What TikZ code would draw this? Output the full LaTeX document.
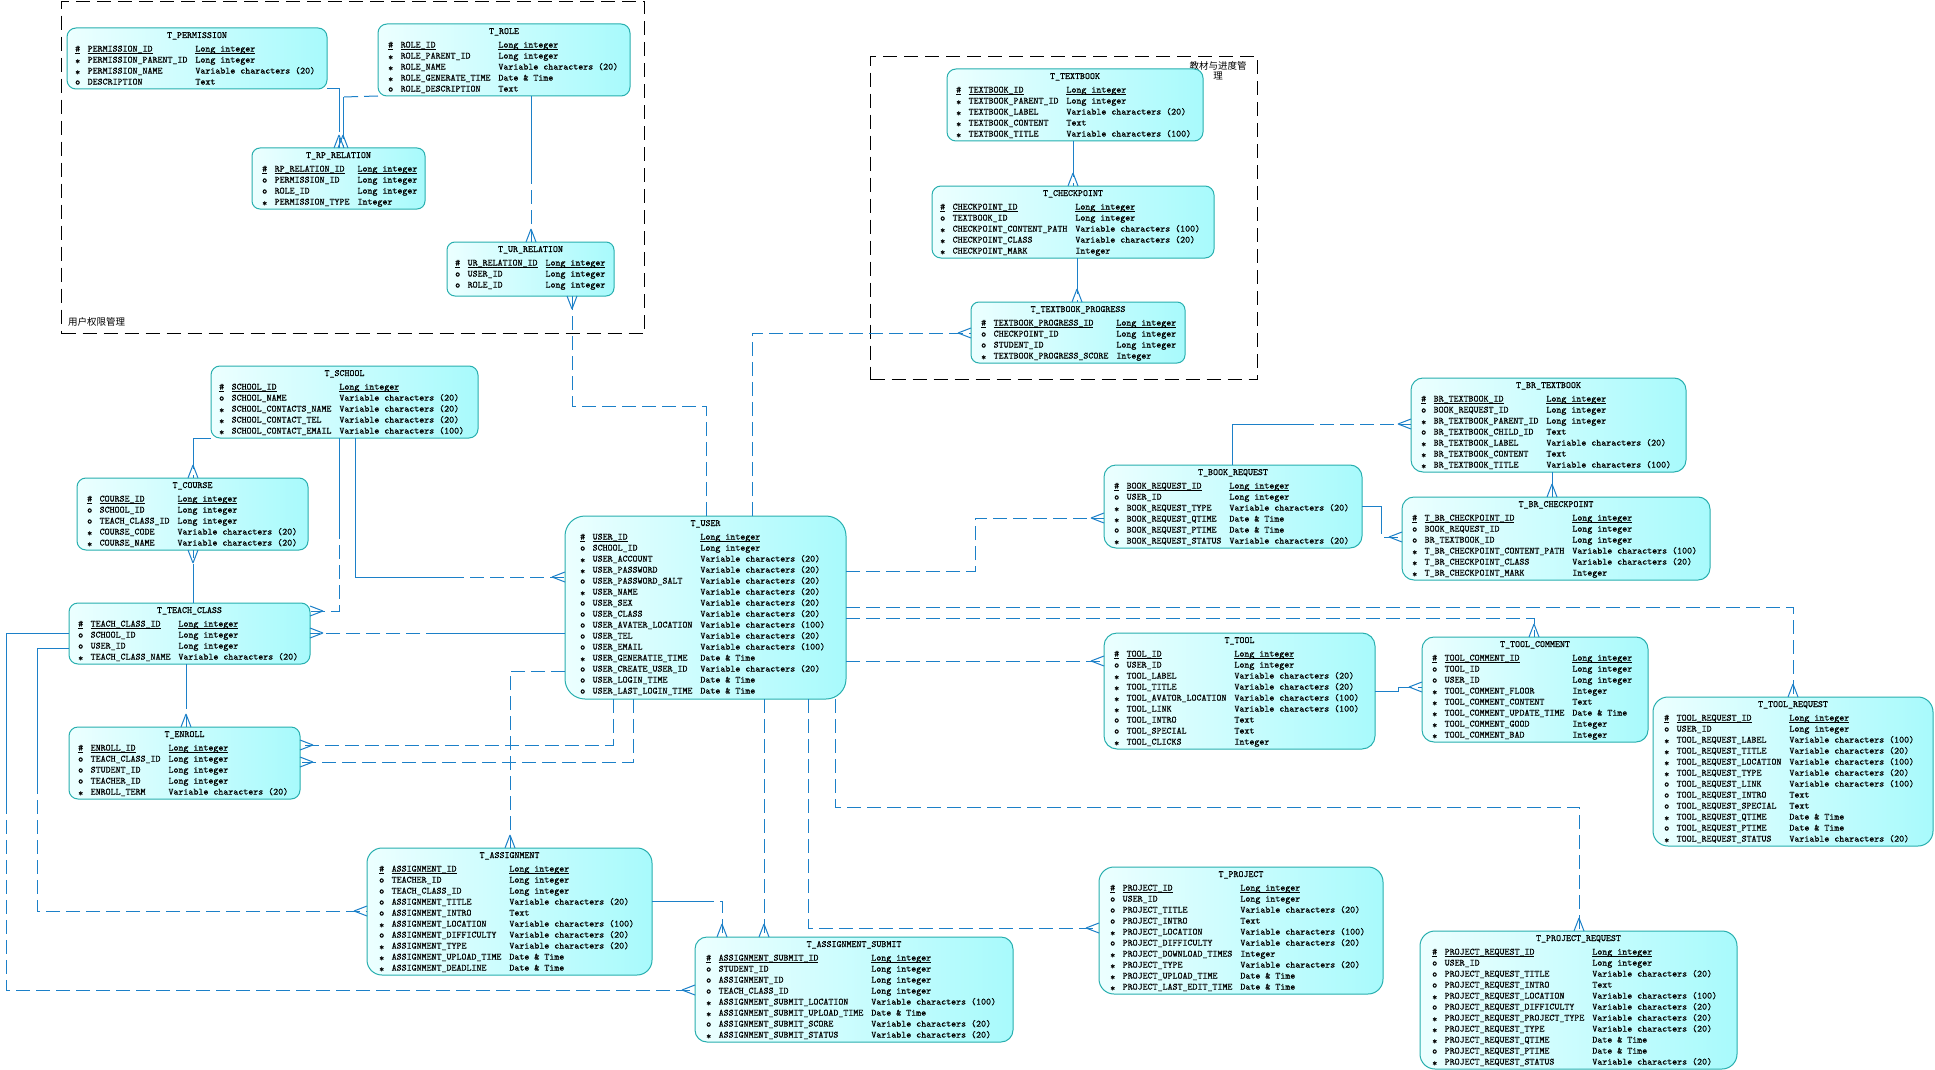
\documentclass[tikz,border=0pt]{standalone}
\usepackage{fontspec}
\newfontfamily\cjkf{Noto Sans CJK SC}
\newfontfamily\ermono{lmmono10-regular}[Extension=.otf, FakeBold=0.6]
\usetikzlibrary{calc}
\definecolor{relc}{RGB}{28,128,200}
\definecolor{tbord}{RGB}{40,175,175}
\definecolor{tlight}{RGB}{236,255,255}
\definecolor{tdark}{RGB}{168,250,252}
\newcommand{\eul}[1]{\setbox0=\hbox{#1}\rlap{\rule[-2pt]{\wd0}{0.7pt}}\box0}
\newcommand{\erpk}[2]{\eul{\#}&\eul{#1}&\eul{#2}\\}
\newcommand{\ero}[2]{o&#1&#2\\}
\newcommand{\ers}[2]{\raisebox{-1.6pt}{*}&#1&#2\\}
\newcommand{\eLI}{Long integer}
\newcommand{\eVC}[1]{Variable characters (#1)}
\newcommand{\eDT}{Date \& Time}
\newcommand{\ertbl}[9]{%
 \node[tbl, rounded corners=#1pt, minimum width=#5pt, minimum height=#6pt, anchor=north west] (#2) at (#3,#4) {};
 \node[ttl, anchor=base] (#2-t) at ($(#2.north)+(0,10)$) {#8};
 \node[rowsn, anchor=north west] (#2-r) at ($(#2.north west)+(#7,15.7)$) {\begin{tabular}{@{}l@{\hspace{7.5pt}}l@{\hspace{8pt}}l@{}}#9\end{tabular}};
}
\tikzset{
 tbl/.style={rectangle, draw=tbord, line width=1pt, rounded corners=9pt, left color=tlight, right color=tdark, inner sep=0pt, outer sep=0pt},
 ttl/.style={font=\ermono\fontsize{9.5}{11}\selectfont, inner sep=0pt},
 rowsn/.style={font=\ermono\fontsize{9.5}{11}\selectfont, inner sep=0pt},
 rel/.style={draw=relc, line width=1pt},
 reld/.style={rel, dash pattern=on 14pt off 6pt},
 grpbox/.style={rectangle, draw=black, line width=1.1pt, dash pattern=on 14pt off 7pt, inner sep=0pt},
 lbl/.style={font=\cjkf\fontsize{9.5}{10.5}\selectfont, inner sep=0pt},
 crow/.pic={\draw[rel] (13,0) -- (0,5) (13,0) -- (0,-5);}
}
\begin{document}
\begin{tikzpicture}[x=1pt,y=-1pt]
\fill[white] (0,0) rectangle (1935,1070);
\useasboundingbox (0,0) rectangle (1935,1070);
% group frames
\node[grpbox, minimum width=583pt, minimum height=332pt, anchor=north west] (g1) at (61,1) {};
\node[lbl, anchor=base west] (g1-l) at (68,325) {用户权限管理};
\node[grpbox, minimum width=387pt, minimum height=323pt, anchor=north west] (g2) at (870,56) {};
\node[lbl, anchor=north, align=center] (g2-l) at (1218,61) {教材与进度管\\理};
% tables
\ertbl{9}{perm}{67}{28}{260}{61}{8}{T\_PERMISSION}{%
\erpk{PERMISSION\_ID}{\eLI}
\ers{PERMISSION\_PARENT\_ID}{\eLI}
\ers{PERMISSION\_NAME}{\eVC{20}}
\ero{DESCRIPTION}{Text}}
\ertbl{9}{role}{378}{24}{252}{72}{10}{T\_ROLE}{%
\erpk{ROLE\_ID}{\eLI}
\ers{ROLE\_PARENT\_ID}{\eLI}
\ers{ROLE\_NAME}{\eVC{20}}
\ers{ROLE\_GENERATE\_TIME}{\eDT}
\ero{ROLE\_DESCRIPTION}{Text}}
\ertbl{8}{rp}{252}{148}{173}{61}{10}{T\_RP\_RELATION}{%
\erpk{RP\_RELATION\_ID}{\eLI}
\ero{PERMISSION\_ID}{\eLI}
\ero{ROLE\_ID}{\eLI}
\ers{PERMISSION\_TYPE}{Integer}}
\ertbl{8}{ur}{447}{242}{167}{54}{8}{T\_UR\_RELATION}{%
\erpk{UR\_RELATION\_ID}{\eLI}
\ero{USER\_ID}{\eLI}
\ero{ROLE\_ID}{\eLI}}
\ertbl{9}{textbook}{947}{69}{256}{72}{9}{T\_TEXTBOOK}{%
\erpk{TEXTBOOK\_ID}{\eLI}
\ers{TEXTBOOK\_PARENT\_ID}{\eLI}
\ers{TEXTBOOK\_LABEL}{\eVC{20}}
\ers{TEXTBOOK\_CONTENT}{Text}
\ers{TEXTBOOK\_TITLE}{\eVC{100}}}
\ertbl{9}{checkpoint}{932}{186}{282}{72}{8}{T\_CHECKPOINT}{%
\erpk{CHECKPOINT\_ID}{\eLI}
\ero{TEXTBOOK\_ID}{\eLI}
\ers{CHECKPOINT\_CONTENT\_PATH}{\eVC{100}}
\ers{CHECKPOINT\_CLASS}{\eVC{20}}
\ers{CHECKPOINT\_MARK}{Integer}}
\ertbl{8}{progress}{971}{302}{214}{61}{10}{T\_TEXTBOOK\_PROGRESS}{%
\erpk{TEXTBOOK\_PROGRESS\_ID}{\eLI}
\ero{CHECKPOINT\_ID}{\eLI}
\ero{STUDENT\_ID}{\eLI}
\ers{TEXTBOOK\_PROGRESS\_SCORE}{Integer}}
\ertbl{9}{school}{211}{366}{267}{72}{8}{T\_SCHOOL}{%
\erpk{SCHOOL\_ID}{\eLI}
\ero{SCHOOL\_NAME}{\eVC{20}}
\ers{SCHOOL\_CONTACTS\_NAME}{\eVC{20}}
\ers{SCHOOL\_CONTACT\_TEL}{\eVC{20}}
\ers{SCHOOL\_CONTACT\_EMAIL}{\eVC{100}}}
\ertbl{9}{course}{77}{478}{231}{72}{10}{T\_COURSE}{%
\erpk{COURSE\_ID}{\eLI}
\ero{SCHOOL\_ID}{\eLI}
\ero{TEACH\_CLASS\_ID}{\eLI}
\ers{COURSE\_CODE}{\eVC{20}}
\ers{COURSE\_NAME}{\eVC{20}}}
\ertbl{9}{teachclass}{69}{603}{241}{61}{9}{T\_TEACH\_CLASS}{%
\erpk{TEACH\_CLASS\_ID}{\eLI}
\ero{SCHOOL\_ID}{\eLI}
\ero{USER\_ID}{\eLI}
\ers{TEACH\_CLASS\_NAME}{\eVC{20}}}
\ertbl{9}{enroll}{69}{727}{231}{72}{9}{T\_ENROLL}{%
\erpk{ENROLL\_ID}{\eLI}
\ero{TEACH\_CLASS\_ID}{\eLI}
\ero{STUDENT\_ID}{\eLI}
\ero{TEACHER\_ID}{\eLI}
\ers{ENROLL\_TERM}{\eVC{20}}}
\ertbl{20}{user}{565}{516}{281}{183}{15}{T\_USER}{%
\erpk{USER\_ID}{\eLI}
\ero{SCHOOL\_ID}{\eLI}
\ers{USER\_ACCOUNT}{\eVC{20}}
\ers{USER\_PASSWORD}{\eVC{20}}
\ero{USER\_PASSWORD\_SALT}{\eVC{20}}
\ers{USER\_NAME}{\eVC{20}}
\ero{USER\_SEX}{\eVC{20}}
\ero{USER\_CLASS}{\eVC{20}}
\ero{USER\_AVATER\_LOCATION}{\eVC{100}}
\ero{USER\_TEL}{\eVC{20}}
\ero{USER\_EMAIL}{\eVC{100}}
\ers{USER\_GENERATIE\_TIME}{\eDT}
\ero{USER\_CREATE\_USER\_ID}{\eVC{20}}
\ero{USER\_LOGIN\_TIME}{\eDT}
\ero{USER\_LAST\_LOGIN\_TIME}{\eDT}}
\ertbl{15}{assignment}{367}{848}{285}{127}{12}{T\_ASSIGNMENT}{%
\erpk{ASSIGNMENT\_ID}{\eLI}
\ero{TEACHER\_ID}{\eLI}
\ero{TEACH\_CLASS\_ID}{\eLI}
\ero{ASSIGNMENT\_TITLE}{\eVC{20}}
\ero{ASSIGNMENT\_INTRO}{Text}
\ers{ASSIGNMENT\_LOCATION}{\eVC{100}}
\ero{ASSIGNMENT\_DIFFICULTY}{\eVC{20}}
\ers{ASSIGNMENT\_TYPE}{\eVC{20}}
\ers{ASSIGNMENT\_UPLOAD\_TIME}{\eDT}
\ers{ASSIGNMENT\_DEADLINE}{\eDT}}
\ertbl{12}{submit}{695}{937}{318}{105}{11}{T\_ASSIGNMENT\_SUBMIT}{%
\erpk{ASSIGNMENT\_SUBMIT\_ID}{\eLI}
\ero{STUDENT\_ID}{\eLI}
\ero{ASSIGNMENT\_ID}{\eLI}
\ero{TEACH\_CLASS\_ID}{\eLI}
\ers{ASSIGNMENT\_SUBMIT\_LOCATION}{\eVC{100}}
\ers{ASSIGNMENT\_SUBMIT\_UPLOAD\_TIME}{\eDT}
\ero{ASSIGNMENT\_SUBMIT\_SCORE}{\eVC{20}}
\ers{ASSIGNMENT\_SUBMIT\_STATUS}{\eVC{20}}}
\ertbl{12}{bookreq}{1104}{465}{258}{83}{10}{T\_BOOK\_REQUEST}{%
\erpk{BOOK\_REQUEST\_ID}{\eLI}
\ero{USER\_ID}{\eLI}
\ers{BOOK\_REQUEST\_TYPE}{\eVC{20}}
\ers{BOOK\_REQUEST\_QTIME}{\eDT}
\ero{BOOK\_REQUEST\_PTIME}{\eDT}
\ers{BOOK\_REQUEST\_STATUS}{\eVC{20}}}
\ertbl{12}{brtextbook}{1411}{378}{275}{94}{10}{T\_BR\_TEXTBOOK}{%
\erpk{BR\_TEXTBOOK\_ID}{\eLI}
\ero{BOOK\_REQUEST\_ID}{\eLI}
\ers{BR\_TEXTBOOK\_PARENT\_ID}{\eLI}
\ero{BR\_TEXTBOOK\_CHILD\_ID}{Text}
\ers{BR\_TEXTBOOK\_LABEL}{\eVC{20}}
\ers{BR\_TEXTBOOK\_CONTENT}{Text}
\ers{BR\_TEXTBOOK\_TITLE}{\eVC{100}}}
\ertbl{12}{brcheckpoint}{1402}{497}{308}{83}{10}{T\_BR\_CHECKPOINT}{%
\erpk{T\_BR\_CHECKPOINT\_ID}{\eLI}
\ero{BOOK\_REQUEST\_ID}{\eLI}
\ero{BR\_TEXTBOOK\_ID}{\eLI}
\ers{T\_BR\_CHECKPOINT\_CONTENT\_PATH}{\eVC{100}}
\ers{T\_BR\_CHECKPOINT\_CLASS}{\eVC{20}}
\ers{T\_BR\_CHECKPOINT\_MARK}{Integer}}
\ertbl{13}{tool}{1104}{633}{271}{116}{10}{T\_TOOL}{%
\erpk{TOOL\_ID}{\eLI}
\ero{USER\_ID}{\eLI}
\ers{TOOL\_LABEL}{\eVC{20}}
\ers{TOOL\_TITLE}{\eVC{20}}
\ers{TOOL\_AVATOR\_LOCATION}{\eVC{100}}
\ers{TOOL\_LINK}{\eVC{100}}
\ero{TOOL\_INTRO}{Text}
\ero{TOOL\_SPECIAL}{Text}
\ers{TOOL\_CLICKS}{Integer}}
\ertbl{12}{toolcomment}{1422}{637}{226}{105}{10}{T\_TOOL\_COMMENT}{%
\erpk{TOOL\_COMMENT\_ID}{\eLI}
\ero{TOOL\_ID}{\eLI}
\ero{USER\_ID}{\eLI}
\ers{TOOL\_COMMENT\_FLOOR}{Integer}
\ers{TOOL\_COMMENT\_CONTENT}{Text}
\ers{TOOL\_COMMENT\_UPDATE\_TIME}{\eDT}
\ers{TOOL\_COMMENT\_GOOD}{Integer}
\ers{TOOL\_COMMENT\_BAD}{Integer}}
\ertbl{15}{toolreq}{1653}{697}{280}{149}{11}{T\_TOOL\_REQUEST}{%
\erpk{TOOL\_REQUEST\_ID}{\eLI}
\ero{USER\_ID}{\eLI}
\ers{TOOL\_REQUEST\_LABEL}{\eVC{100}}
\ers{TOOL\_REQUEST\_TITLE}{\eVC{20}}
\ers{TOOL\_REQUEST\_LOCATION}{\eVC{100}}
\ers{TOOL\_REQUEST\_TYPE}{\eVC{20}}
\ero{TOOL\_REQUEST\_LINK}{\eVC{100}}
\ero{TOOL\_REQUEST\_INTRO}{Text}
\ero{TOOL\_REQUEST\_SPECIAL}{Text}
\ers{TOOL\_REQUEST\_QTIME}{\eDT}
\ero{TOOL\_REQUEST\_PTIME}{\eDT}
\ers{TOOL\_REQUEST\_STATUS}{\eVC{20}}}
\ertbl{15}{project}{1099}{867}{284}{127}{11}{T\_PROJECT}{%
\erpk{PROJECT\_ID}{\eLI}
\ero{USER\_ID}{\eLI}
\ero{PROJECT\_TITLE}{\eVC{20}}
\ero{PROJECT\_INTRO}{Text}
\ers{PROJECT\_LOCATION}{\eVC{100}}
\ero{PROJECT\_DIFFICULTY}{\eVC{20}}
\ers{PROJECT\_DOWNLOAD\_TIMES}{Integer}
\ers{PROJECT\_TYPE}{\eVC{20}}
\ers{PROJECT\_UPLOAD\_TIME}{\eDT}
\ers{PROJECT\_LAST\_EDIT\_TIME}{\eDT}}
\ertbl{15}{projreq}{1420}{931}{317}{138}{12}{T\_PROJECT\_REQUEST}{%
\erpk{PROJECT\_REQUEST\_ID}{\eLI}
\ero{USER\_ID}{\eLI}
\ero{PROJECT\_REQUEST\_TITLE}{\eVC{20}}
\ero{PROJECT\_REQUEST\_INTRO}{Text}
\ers{PROJECT\_REQUEST\_LOCATION}{\eVC{100}}
\ero{PROJECT\_REQUEST\_DIFFICULTY}{\eVC{20}}
\ers{PROJECT\_REQUEST\_PROJECT\_TYPE}{\eVC{20}}
\ers{PROJECT\_REQUEST\_TYPE}{\eVC{20}}
\ers{PROJECT\_REQUEST\_QTIME}{\eDT}
\ero{PROJECT\_REQUEST\_PTIME}{\eDT}
\ers{PROJECT\_REQUEST\_STATUS}{\eVC{20}}}
% connectors
\draw[rel] (perm.south east) -- (339,89) -- (339,118);
\draw[reld] (339,118) -- (rp.north -| 339,0);
\pic[rotate=90] at (rp.north -| 339,0) {crow};
\draw[reld] (role.south west) -- (343,97);
\draw[rel] (343,97) -- (343,125);
\draw[reld] (343,125) -- (rp.north -| 343,0);
\pic[rotate=90] at (rp.north -| 343,0) {crow};
\draw[rel] (role.south -| 531,0) -- (531,170);
\draw[reld] (531,170) -- (ur.north -| 531,0);
\pic[rotate=90] at (ur.north -| 531,0) {crow};
\draw[reld] (user.north -| 706,0) -- (706,406) -- (572,406) -- (ur.south -| 572,0);
\pic[rotate=-90] at (ur.south -| 572,0) {crow};
\draw[reld] (user.north -| 752,0) -- (752,333) -- (progress.west |- 0,333);
\pic[rotate=180] at (progress.west |- 0,333) {crow};
\draw[rel] (school.south west) -- (193,438) -- (193,455);
\draw[reld] (193,455) -- (course.north -| 193,0);
\pic[rotate=90] at (course.north -| 193,0) {crow};
\draw[rel] (school.south -| 339,0) -- (339,525);
\draw[reld] (339,525) -- (339,611) -- (teachclass.east |- 0,611);
\pic[rotate=0] at (teachclass.east |- 0,611) {crow};
\draw[rel] (school.south -| 355,0) -- (355,577) -- (450,577);
\draw[reld] (450,577) -- (user.west |- 0,577);
\pic[rotate=180] at (user.west |- 0,577) {crow};
\draw[rel] (teachclass.north -| 193,0) -- (193,578);
\draw[reld] (193,578) -- (course.south -| 193,0);
\pic[rotate=-90] at (course.south -| 193,0) {crow};
\draw[rel] (teachclass.south -| 186,0) -- (186,695);
\draw[reld] (186,695) -- (enroll.north -| 186,0);
\pic[rotate=90] at (enroll.north -| 186,0) {crow};
\draw[rel] (user.west |- 0,633) -- (440,633);
\draw[reld] (440,633) -- (teachclass.east |- 0,633);
\pic[rotate=0] at (teachclass.east |- 0,633) {crow};
\draw[rel] (teachclass.west |- 0,633) -- (6,633) -- (6,800);
\draw[reld] (6,800) -- (6,990) -- (submit.west |- 0,990);
\pic[rotate=180] at (submit.west |- 0,990) {crow};
\draw[rel] (teachclass.west |- 0,648) -- (37,648) -- (37,780);
\draw[reld] (37,780) -- (37,911) -- (assignment.west |- 0,911);
\pic[rotate=180] at (assignment.west |- 0,911) {crow};
\draw[reld] (user.south -| 613,0) -- (613,745) -- (enroll.east |- 0,745);
\pic[rotate=0] at (enroll.east |- 0,745) {crow};
\draw[reld] (user.south -| 633,0) -- (633,762) -- (enroll.east |- 0,762);
\pic[rotate=0] at (enroll.east |- 0,762) {crow};
\draw[reld] (user.west |- 0,671) -- (510,671) -- (assignment.north -| 510,0);
\pic[rotate=90] at (assignment.north -| 510,0) {crow};
\draw[reld] (user.south -| 764,0) -- (submit.north -| 764,0);
\pic[rotate=90] at (submit.north -| 764,0) {crow};
\draw[rel] (assignment.east |- 0,901) -- (700,901);
\draw[reld] (700,901) -- (722,901) -- (submit.north -| 722,0);
\pic[rotate=90] at (submit.north -| 722,0) {crow};
\draw[reld] (user.south -| 808,0) -- (808,928) -- (project.west |- 0,928);
\pic[rotate=180] at (project.west |- 0,928) {crow};
\draw[reld] (user.south -| 835,0) -- (835,807) -- (1579,807) -- (projreq.north -| 1579,0);
\pic[rotate=90] at (projreq.north -| 1579,0) {crow};
\draw[reld] (user.east |- 0,571) -- (975,571) -- (975,518) -- (bookreq.west |- 0,518);
\pic[rotate=180] at (bookreq.west |- 0,518) {crow};
\draw[reld] (user.east |- 0,607) -- (1793,607) -- (toolreq.north -| 1793,0);
\pic[rotate=90] at (toolreq.north -| 1793,0) {crow};
\draw[reld] (user.east |- 0,618) -- (1534,618) -- (toolcomment.north -| 1534,0);
\pic[rotate=90] at (toolcomment.north -| 1534,0) {crow};
\draw[reld] (user.east |- 0,661) -- (tool.west |- 0,661);
\pic[rotate=180] at (tool.west |- 0,661) {crow};
\draw[rel] (bookreq.north -| 1232,0) -- (1232,424) -- (1300,424);
\draw[reld] (1300,424) -- (brtextbook.west |- 0,424);
\pic[rotate=180] at (brtextbook.west |- 0,424) {crow};
\draw[rel] (bookreq.east |- 0,506) -- (1381,506) -- (1381,520);
\draw[reld] (1381,520) -- (1381,537) -- (brcheckpoint.west |- 0,537);
\pic[rotate=180] at (brcheckpoint.west |- 0,537) {crow};
\draw[rel] (brtextbook.south -| 1552,0) -- (1552,484);
\draw[reld] (1552,484) -- (brcheckpoint.north -| 1552,0);
\pic[rotate=90] at (brcheckpoint.north -| 1552,0) {crow};
\draw[rel] (textbook.south -| 1073,0) -- (1073,163);
\draw[reld] (1073,163) -- (checkpoint.north -| 1073,0);
\pic[rotate=90] at (checkpoint.north -| 1073,0) {crow};
\draw[rel] (checkpoint.south -| 1077,0) -- (1077,280);
\draw[reld] (1077,280) -- (progress.north -| 1077,0);
\pic[rotate=90] at (progress.north -| 1077,0) {crow};
\draw[rel] (tool.east |- 0,691) -- (1398,691) -- (1398,687);
\draw[reld] (1398,687) -- (toolcomment.west |- 0,687);
\pic[rotate=180] at (toolcomment.west |- 0,687) {crow};
\end{tikzpicture}
\end{document}
